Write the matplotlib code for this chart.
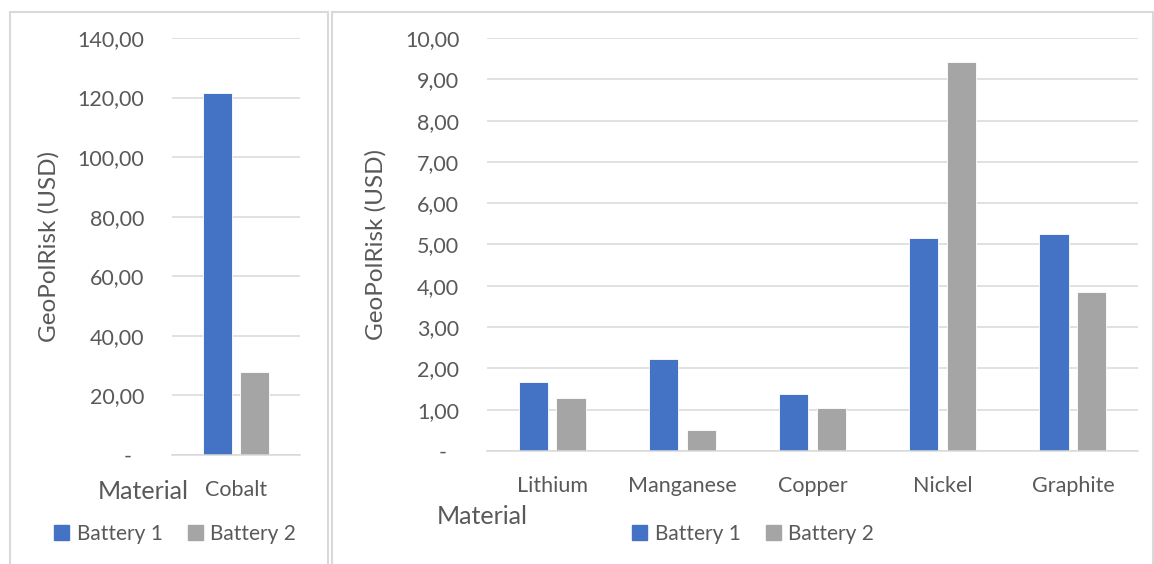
import matplotlib
matplotlib.use("Agg")
import matplotlib.pyplot as plt
import matplotlib.patches as mpatches
from matplotlib.ticker import FuncFormatter
from matplotlib.transforms import ScaledTranslation

# Data
left_materials = ["Cobalt"]
left_battery1 = [121.5]
left_battery2 = [27.9]

right_materials = ["Lithium", "Manganese", "Copper", "Nickel", "Graphite"]
right_battery1 = [1.67, 2.23, 1.38, 5.16, 5.25]
right_battery2 = [1.28, 0.51, 1.04, 9.42, 3.85]

series_names = ["Battery 1", "Battery 2"]

BLUE = "#4472C4"
GREY = "#A5A5A5"
TEXT = "#595959"
GRID = "#D9D9D9"

plt.rcParams["font.family"] = ["Lato", "DejaVu Sans"]

W, H = 1154, 564
fig = plt.figure(figsize=(W / 100, H / 100), dpi=100)


def fx(px):
    return px / W


def fy(py):
    return 1 - py / H


# Panel frames
for x0, x1 in [(10, 328), (332, 1153)]:
    fig.patches.append(mpatches.Rectangle((fx(x0), fy(600)), fx(x1 - x0), (600 - 12) / H,
                                          transform=fig.transFigure, fill=False,
                                          edgecolor=GRID, linewidth=1.5))


def comma_fmt(v, pos):
    if abs(v) < 1e-9:
        return "-"
    return f"{v:.2f}".replace(".", ",")


def style_axis(ax, ymax, step):
    ax.set_ylim(0, ymax)
    ax.set_yticks([i * step for i in range(int(round(ymax / step)) + 1)])
    ax.yaxis.set_major_formatter(FuncFormatter(comma_fmt))
    ax.grid(axis="y", color=GRID, linewidth=1.1)
    ax.set_axisbelow(True)
    for s in ["top", "right", "left"]:
        ax.spines[s].set_visible(False)
    ax.spines["bottom"].set_color(GRID)
    ax.spines["bottom"].set_linewidth(1.1)
    ax.tick_params(axis="both", length=0, colors=TEXT, labelsize=15.5)
    ax.tick_params(axis="y", pad=20)
    ax.tick_params(axis="x", pad=18)
    fig.canvas.draw()
    for lab in ax.get_yticklabels():
        if lab.get_text() == "-":
            lab.set_transform(lab.get_transform() + ScaledTranslation(-0.13, 0, fig.dpi_scale_trans))


def draw_bars(ax, cats, b1, b2):
    xs = list(range(len(cats)))
    w = 0.225
    off = 0.145
    ax.bar([x - off for x in xs], b1, width=w, color=BLUE, edgecolor="white", linewidth=0.6)
    ax.bar([x + off for x in xs], b2, width=w, color=GREY, edgecolor="white", linewidth=0.6)
    ax.set_xticks(xs)
    ax.set_xticklabels(cats)
    ax.set_xlim(-0.5, len(cats) - 0.5)


# Left chart
axL = fig.add_axes([fx(172), fy(455), fx(300 - 172), (455 - 38) / H])
draw_bars(axL, left_materials, left_battery1, left_battery2)
style_axis(axL, 140, 20)
axL.set_ylabel("GeoPolRisk (USD)", color=TEXT, fontsize=17.5)
axL.yaxis.set_label_coords((60 - 172) / 128, 0.5)
axL.set_xlabel("Material", color=TEXT, fontsize=18)
axL.xaxis.set_label_coords((143 - 172) / 128, (455 - 480) / 417)

# Right chart
axR = fig.add_axes([fx(487), fy(451), fx(1138 - 487), (451 - 38) / H])
draw_bars(axR, right_materials, right_battery1, right_battery2)
style_axis(axR, 10, 1)
axR.set_ylabel("GeoPolRisk (USD)", color=TEXT, fontsize=17.5)
axR.yaxis.set_label_coords((387 - 487) / 651, 0.5)
axR.set_xlabel("Material", color=TEXT, fontsize=18)
axR.xaxis.set_label_coords((482 - 487) / 651, (451 - 505) / 413)

# Legends
handles = [mpatches.Patch(color=BLUE, label=series_names[0]),
           mpatches.Patch(color=GREY, label=series_names[1])]
for cx in [175, 753]:
    fig.legend(handles=handles, loc="center", bbox_to_anchor=(fx(cx), fy(534)),
               ncol=2, frameon=False, fontsize=15, labelcolor=TEXT,
               handlelength=0.75, handleheight=0.75, handletextpad=0.35,
               columnspacing=1.2)

fig.savefig("out.png", dpi=100)
